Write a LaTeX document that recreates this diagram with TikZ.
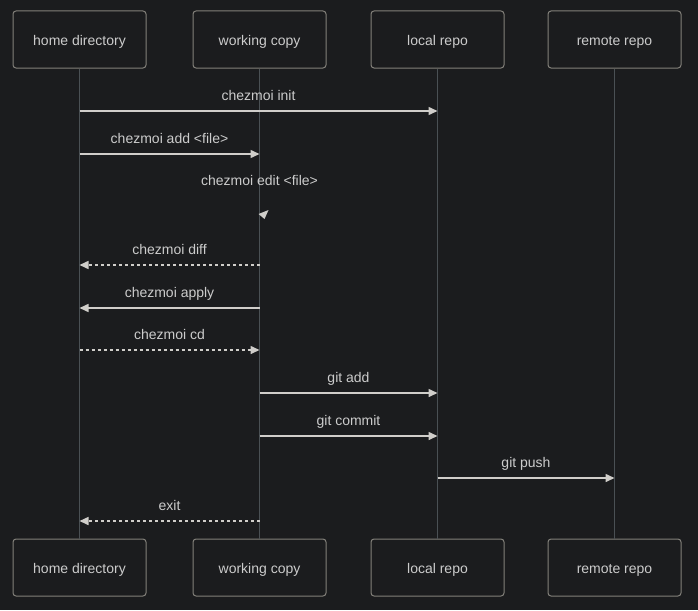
\documentclass[tikz,border=0pt]{standalone}
\usepackage{fontspec}
\setmainfont{Liberation Sans}
\usetikzlibrary{arrows.meta}

\definecolor{bgdark}{RGB}{27,28,30}
\definecolor{boxline}{RGB}{130,128,122}
\definecolor{lifegray}{RGB}{74,80,84}
\definecolor{msgline}{RGB}{208,206,202}
\definecolor{labeltext}{RGB}{204,204,204}

\begin{document}
\begin{tikzpicture}[x=1pt, y=-1pt,
    actor/.style={draw=boxline, fill=bgdark, line width=1pt, rounded corners=3pt,
        minimum width=133pt, minimum height=57pt, text=labeltext,
        font=\fontsize{14}{16}\selectfont, text height=12pt, text depth=0pt},
    lifeline/.style={draw=lifegray, line width=1.5pt},
    msg/.style={draw=msgline, line width=1.5pt, -{Triangle[length=9pt,width=8pt]}},
    reply/.style={msg, dash pattern=on 3pt off 3pt},
    msglabel/.style={text=labeltext, font=\fontsize{14}{16}\selectfont, anchor=base}]

% Background and page size
\fill[bgdark] (0,0) rectangle (698,610);
\useasboundingbox (0,0) rectangle (698,610);

% Actors, top and bottom, with their lifelines
\foreach \name/\x/\txt in {home/79.5/home directory, work/259.5/working copy,
    local/437.5/local repo, remote/614.5/remote repo} {
    \node[actor] (\name-top) at (\x,39.5) {\txt};
    \node[actor] (\name-bot) at (\x,567.5) {\txt};
    \draw[lifeline] (\name-top.south) -- (\name-bot.north);
}

% Messages between lifelines
\foreach \src/\dst/\y/\txt/\kind in {
    home/local/111/chezmoi init/msg,
    home/work/154/chezmoi add <file>/msg,
    work/home/265/chezmoi diff/reply,
    work/home/308/chezmoi apply/msg,
    home/work/350/chezmoi cd/reply,
    work/local/393/git add/msg,
    work/local/436/git commit/msg,
    local/remote/478/git push/msg,
    work/home/521/exit/reply} {
    \coordinate (from) at (\src-top.south |- 0,\y);
    \coordinate (to) at (\dst-top.south |- 0,\y);
    \draw[\kind] (from) -- (to) node[midway, msglabel, yshift=11pt] {\txt};
}

% Self message on the working copy (only its arrow head shows)
\node[msglabel] (editlbl) at (work-top.south |- 0,185) {chezmoi edit <file>};
\coordinate (edit) at (work-top.south |- 0,214);
\fill[msgline] ([shift={(-1,0)}]edit) -- ([shift={(9,-4)}]edit) -- ([shift={(5,5)}]edit) -- cycle;

\end{tikzpicture}
\end{document}
